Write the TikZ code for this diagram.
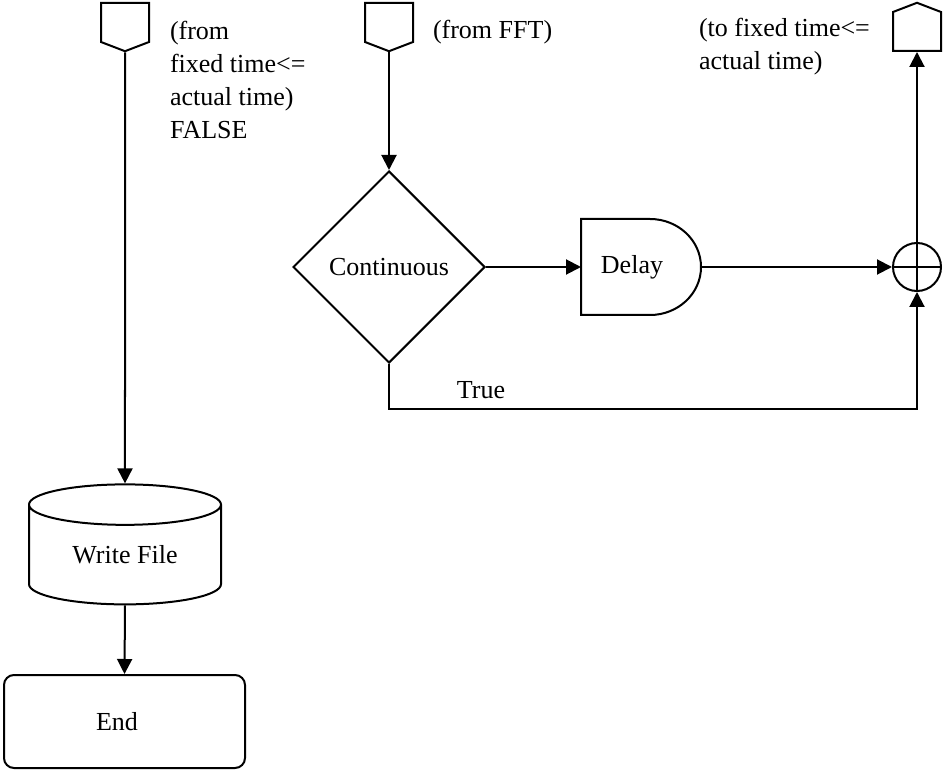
\documentclass[tikz,border=0pt]{standalone}
\usepackage{fontspec}
\setmainfont{Liberation Serif}
\usetikzlibrary{shapes.geometric}
\usetikzlibrary{shapes.symbols}
\usetikzlibrary{arrows.meta}

\begin{document}
\begin{tikzpicture}[x=0.5pt, y=-0.5pt, line width=1pt,
        font=\fontsize{13}{16.5}\selectfont,
        flow/.style={-{Triangle[length=7.5pt,width=7.5pt]}},
        offpage/.style={draw, shape=signal, signal from=nowhere,
            signal pointer angle=138, minimum width=24pt,
            minimum height=19.5pt, inner sep=0pt},
        note/.style={anchor=north west, align=left, inner sep=0pt}]
        \useasboundingbox (0,0) rectangle (943,770);

        \node[offpage, signal to=south] (inA) at (125,22.5) {};
        \node[offpage, signal to=south] (inB) at (389,22.5) {};
        \node[offpage, signal to=north] (outC) at (917,31.5) {};

        \node[note] (txtA) at (169,20) {(from\\fixed time<=\\actual time)\\FALSE};
        \node[note] (txtB) at (432,19) {(from FFT)};
        \node[note] (txtC) at (698,17) {(to fixed time<=\\actual time)};

        \node[draw, diamond, aspect=1, minimum width=96pt, minimum height=96pt,
            inner sep=0pt] (cont) at (389,267) {Continuous};
        \node[minimum width=51pt, minimum height=48pt, inner sep=0pt, outer sep=0pt]
            (delay) at (632,267) {Delay};
        \draw (delay.north west) -- ++(69,0)
            arc[start angle=90, end angle=-90, x radius=25.5pt, y radius=24pt]
            -- (delay.south west) -- cycle;
        \coordinate (dout) at (701,267);
        \node[draw, circle, minimum size=24pt, inner sep=0pt] (sum) at (917,267) {};
        \draw (sum.north) -- (sum.south) (sum.west) -- (sum.east);
        \coordinate (tbend) at (389,409);
        \node (lblTrue) at (481,390) {True};

        \node[draw, cylinder, shape border rotate=90, aspect=0.385,
            minimum width=96pt, minimum height=60pt, inner sep=0pt]
            (wfile) at (125,555) {Write File};
        \node[draw, rounded corners=5pt, minimum width=120.5pt,
            minimum height=46.5pt] (stop) at (124.5,721.5) {};
        \node (lblEnd) at (117,721.5) {End};

        \draw[flow] (inA.south) -- (wfile.north);
        \draw[flow] (wfile.south) -- (stop.north);
        \draw[flow] (inB.south) -- (cont.north);
        \draw[flow] (cont.east) -- (delay.west);
        \draw[flow] (dout) -- (sum.west);
        \draw[flow] (cont.south) -- (tbend) -| (sum.south);
        \draw[flow] (sum.north) -- (outC.south);
    \end{tikzpicture}
\end{document}
